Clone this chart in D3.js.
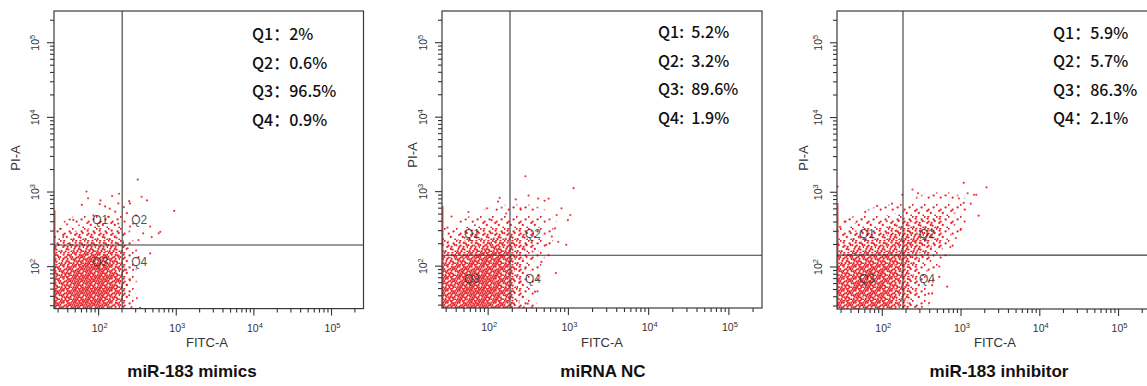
<!DOCTYPE html>
<html>
<head>
<meta charset="utf-8">
<script src="https://cdn.jsdelivr.net/npm/d3@7"></script>
<style>
  body { margin: 0; background: #fff; }
  svg { display: block; }
</style>
</head>
<body>
<div id="chart"></div>
<script>
// ---- data ----
const panelNames = ["miR-183 mimics", "miRNA NC", "miR-183 inhibitor"];
const quadrantNames = ["Q1", "Q2", "Q3", "Q4"];
const mimicsPct = [2, 0.6, 96.5, 0.9];
const ncPct = [5.2, 3.2, 89.6, 1.9];
const inhibitorPct = [5.9, 5.7, 86.3, 2.1];

// quadrant gates [FITC-A, PI-A]
const mimicsGate = [204, 192];
const ncGate = [190, 138];
const inhibitorGate = [186, 142];

const axisDomain = [27, 262144];
const decadeTicks = [100, 1000, 10000, 100000];
const tickRange = [30, 200000];

// event density, log10 bins of 0.15 starting at 1.43 (rows bottom -> top, cols left -> right)
const binStart = 1.43, binStep = 0.15;
const mimicsDensity = [
  [0.75, 0.9, 0.95, 0.95, 0.9, 0.65, 0.1, 0, 0, 0, 0],
  [0.75, 0.9, 0.97, 0.97, 0.95, 0.75, 0.12, 0, 0, 0, 0],
  [0.7, 0.9, 0.97, 0.97, 0.95, 0.75, 0.12, 0.02, 0, 0, 0],
  [0.65, 0.85, 0.95, 0.95, 0.9, 0.7, 0.1, 0.02, 0, 0, 0],
  [0.55, 0.7, 0.85, 0.85, 0.8, 0.65, 0.1, 0.02, 0, 0, 0],
  [0.38, 0.5, 0.62, 0.62, 0.58, 0.48, 0.08, 0.02, 0, 0, 0],
  [0.18, 0.28, 0.36, 0.36, 0.36, 0.3, 0.06, 0, 0, 0, 0],
  [0.06, 0.1, 0.15, 0.18, 0.18, 0.15, 0.04, 0, 0, 0, 0],
  [0, 0.03, 0.05, 0.06, 0.06, 0.06, 0.02, 0, 0, 0, 0]
];
const ncDensity = [
  [0.8, 0.85, 0.9, 0.9, 0.85, 0.7, 0.2, 0.08, 0, 0, 0],
  [0.8, 0.9, 0.95, 0.95, 0.9, 0.75, 0.25, 0.1, 0.02, 0, 0],
  [0.75, 0.9, 0.95, 0.95, 0.9, 0.75, 0.25, 0.1, 0.03, 0, 0],
  [0.7, 0.85, 0.9, 0.9, 0.9, 0.75, 0.3, 0.12, 0.04, 0, 0],
  [0.55, 0.7, 0.8, 0.85, 0.85, 0.75, 0.35, 0.15, 0.05, 0, 0],
  [0.32, 0.48, 0.58, 0.62, 0.68, 0.62, 0.42, 0.25, 0.1, 0.03, 0],
  [0.12, 0.25, 0.35, 0.4, 0.45, 0.45, 0.36, 0.25, 0.12, 0.04, 0],
  [0.04, 0.08, 0.12, 0.18, 0.22, 0.25, 0.22, 0.18, 0.1, 0.05, 0],
  [0, 0.02, 0.04, 0.06, 0.08, 0.1, 0.1, 0.1, 0.06, 0.03, 0],
  [0, 0, 0.01, 0.02, 0.03, 0.04, 0.04, 0.04, 0.03, 0.02, 0]
];
const inhibitorDensity = [
  [0.75, 0.8, 0.8, 0.8, 0.75, 0.55, 0.2, 0.06, 0, 0, 0, 0],
  [0.75, 0.85, 0.85, 0.85, 0.8, 0.6, 0.25, 0.1, 0.02, 0, 0, 0],
  [0.75, 0.85, 0.85, 0.85, 0.8, 0.65, 0.3, 0.12, 0.03, 0, 0, 0],
  [0.7, 0.8, 0.85, 0.85, 0.8, 0.65, 0.3, 0.15, 0.05, 0, 0, 0],
  [0.58, 0.68, 0.75, 0.75, 0.75, 0.65, 0.42, 0.2, 0.08, 0, 0, 0],
  [0.38, 0.48, 0.52, 0.58, 0.62, 0.62, 0.58, 0.42, 0.2, 0.08, 0, 0],
  [0.2, 0.3, 0.35, 0.4, 0.5, 0.56, 0.62, 0.52, 0.36, 0.15, 0.05, 0],
  [0.08, 0.15, 0.2, 0.25, 0.3, 0.35, 0.45, 0.45, 0.35, 0.2, 0.08, 0],
  [0.02, 0.04, 0.07, 0.1, 0.12, 0.15, 0.22, 0.25, 0.25, 0.18, 0.1, 0.04],
  [0, 0, 0.02, 0.03, 0.04, 0.05, 0.08, 0.1, 0.12, 0.1, 0.07, 0.03],
  [0, 0, 0, 0, 0.01, 0.02, 0.03, 0.04, 0.05, 0.05, 0.04, 0.02]
];

// single sparse events [log10 FITC-A, log10 PI-A]
const mimicsDots = [
  [2.51, 3.16], [2.98, 2.74], [2.56, 2.93], [2.63, 2.88], [2.18, 2.94], [1.85, 3.0],
  [1.87, 2.91], [2.27, 2.97], [2.40, 2.87], [2.41, 2.84], [2.02, 2.83], [2.09, 2.80],
  [1.79, 2.82], [2.49, 2.68], [2.67, 2.53], [2.78, 2.44], [2.80, 2.46], [2.69, 2.39],
  [2.58, 2.44], [2.52, 2.35], [2.41, 2.53], [2.45, 2.57], [2.37, 2.71], [2.67, 2.17],
  [2.52, 2.12], [2.45, 1.95], [2.41, 1.81], [2.50, 1.57], [2.40, 1.61], [2.37, 1.75],
  [2.43, 1.45], [2.54, 1.44], [2.36, 1.95], [2.38, 2.24], [2.49, 2.21], [1.60, 2.56],
  [1.51, 2.50], [1.68, 2.62], [1.55, 2.39], [2.13, 2.66], [2.22, 2.73], [1.94, 2.68],
  [2.26, 2.57], [2.33, 2.79], [2.26, 2.84], [2.15, 2.77], [2.03, 2.88]
];
const ncDots = [
  [2.47, 3.20], [3.07, 3.04], [2.51, 2.94], [2.63, 2.90], [2.76, 2.90], [2.71, 2.87],
  [2.15, 2.91], [1.99, 2.77], [1.76, 2.72], [1.55, 2.66], [1.50, 2.51], [3.03, 2.68],
  [3.00, 2.61], [2.92, 2.77], [2.86, 2.68], [2.98, 2.28], [2.84, 2.50], [2.80, 2.39],
  [2.35, 2.89], [2.41, 2.77], [2.23, 2.70], [2.13, 2.86], [2.05, 2.61], [2.85, 1.90],
  [2.67, 2.05], [2.63, 1.87], [2.59, 1.65], [2.50, 1.49], [2.44, 1.58], [2.40, 1.78],
  [2.47, 1.96], [2.56, 2.19], [2.45, 1.44], [2.55, 1.44], [2.73, 2.28], [2.88, 2.32],
  [2.76, 2.14], [2.48, 2.28]
];
const inhibitorDots = [
  [3.04, 3.12], [3.33, 3.06], [2.39, 3.03], [2.46, 2.98], [2.26, 2.96], [3.09, 2.98],
  [3.17, 2.96], [3.20, 2.96], [3.13, 2.84], [3.23, 2.68], [3.04, 2.85], [2.98, 2.91],
  [2.13, 2.84], [1.94, 2.81], [1.79, 2.73], [1.54, 2.60], [1.47, 2.53], [2.94, 2.38],
  [3.00, 2.49], [2.83, 1.73], [2.64, 1.75], [2.60, 1.51], [2.51, 1.46], [2.73, 1.86],
  [2.73, 2.00], [2.81, 2.15], [2.87, 2.26], [2.64, 1.64], [2.55, 1.62], [1.44, 3.07]
];

// events piled on the FITC-A minimum: [from, to] in log10 PI-A
const mimicsPile = [1.43, 2.75];
const ncPile = [1.43, 2.8];
const inhibitorPile = [1.43, 2.85];

// ---- layout ----
const W = 1147, H = 386;
const red = "#e8262b";
const ink = "#333";

const panels = [
  { name: panelNames[0], pct: mimicsPct, sep: "：", gate: mimicsGate, density: mimicsDensity,
    dots: mimicsDots, pile: mimicsPile, box: [54, 11, 363.5, 308.6],
    statsX: 252, statsY: 40, statsStep: 28.5, qdx: [-22, 17], qdy: [-25, 17],
    piX: 15, piY: 158, fitcX: 207, titleX: 192 },
  { name: panelNames[1], pct: ncPct, sep: ":  ", gate: ncGate, density: ncDensity,
    dots: ncDots, pile: ncPile, box: [442, 11, 762, 308],
    statsX: 658, statsY: 38, statsStep: 28.7, qdx: [-38, 23], qdy: [-21, 24],
    piX: 412, piY: 155, fitcX: 602, titleX: 603 },
  { name: panelNames[2], pct: inhibitorPct, sep: "：", gate: inhibitorGate, density: inhibitorDensity,
    dots: inhibitorDots, pile: inhibitorPile, box: [837, 11, 1151, 309],
    statsX: 1053, statsY: 39, statsStep: 28.3, qdx: [-36, 24], qdy: [-21, 24],
    piX: 803, piY: 158, fitcX: 995, titleX: 999 }
];

const svg = d3.select("#chart").append("svg")
  .attr("width", W)
  .attr("height", H)
  .attr("font-family", "'Liberation Sans', Arial, sans-serif");

const defs = svg.append("defs");

// ordered-dither dot screen: a jittered 6x6 lattice in a 12px tile,
// each dot switches on once the local density passes its level
const screenPos = [
  [0.6, 0.8], [2.7, 1.3], [4.3, 0.5], [6.9, 1.1], [8.4, 0.4], [10.8, 1.2],
  [1.5, 3.0], [3.6, 2.7], [5.4, 3.3], [7.8, 2.9], [9.6, 3.4], [11.5, 2.6],
  [0.3, 5.2], [2.6, 4.9], [4.7, 5.6], [6.5, 4.8], [8.9, 5.3], [10.7, 5.0],
  [1.2, 7.3], [3.3, 6.9], [5.8, 7.4], [7.6, 6.8], [9.8, 7.5], [11.6, 7.1],
  [0.5, 9.4], [2.4, 8.8], [4.5, 9.3], [6.8, 9.0], [8.6, 9.6], [10.6, 8.9],
  [1.6, 11.2], [3.7, 11.5], [5.5, 10.9], [7.7, 11.4], [9.5, 11.0], [11.4, 11.6]
];
const latin = [
  [0, 3, 1, 4, 2, 5],
  [4, 1, 5, 2, 0, 3],
  [2, 5, 0, 3, 4, 1],
  [3, 0, 4, 1, 5, 2],
  [5, 2, 3, 0, 1, 4],
  [1, 4, 2, 5, 3, 0]
];
const nLevels = 12;
const levelOf = k => { const row = Math.floor(k / 6), col = k % 6; return latin[row][col] * 2 + (row >= 3 ? 1 : 0); };

d3.range(nLevels).forEach(lv => {
  const pat = defs.append("pattern")
    .attr("id", `screen-${lv}`)
    .attr("width", 12).attr("height", 12)
    .attr("patternUnits", "userSpaceOnUse");
  pat.selectAll("circle").data(screenPos.filter((d, k) => levelOf(k) === lv)).join("circle")
    .attr("cx", d => d[0]).attr("cy", d => d[1]).attr("r", 1.15).attr("fill", "#fff");
  defs.append("mask").attr("id", `mask-${lv}`)
    .attr("maskUnits", "userSpaceOnUse")
    .attr("x", 0).attr("y", 0).attr("width", W).attr("height", H)
    .append("rect").attr("width", W).attr("height", H).attr("fill", `url(#screen-${lv})`);
  const thr = (lv + 0.5) / nLevels;
  const f = defs.append("filter").attr("id", `level-${lv}`)
    .attr("x", "-20%").attr("y", "-20%").attr("width", "140%").attr("height", "140%")
    .attr("color-interpolation-filters", "sRGB");
  f.append("feGaussianBlur").attr("stdDeviation", 3.2);
  f.append("feComponentTransfer").append("feFuncA")
    .attr("type", "linear").attr("slope", 40).attr("intercept", -40 * thr);
});

const allTicks = d3.range(1, 6)
  .flatMap(e => d3.range(1, 10).map(k => k * Math.pow(10, e)))
  .filter(v => v >= tickRange[0] && v <= tickRange[1]);
const isMajor = v => decadeTicks.some(t => Math.abs(t - v) < 1e-6);
const expOf = v => Math.round(Math.log10(v));

panels.forEach((p, i) => {
  const [l, t, r, b] = p.box;
  const x = d3.scaleLog().domain(axisDomain).range([l, r]);
  const y = d3.scaleLog().domain(axisDomain).range([b, t]);
  const g = svg.append("g");

  defs.append("clipPath").attr("id", `clip-${i}`)
    .append("rect").attr("x", l).attr("y", t).attr("width", r - l).attr("height", b - t);

  // density cells, dithered into dots
  const edge = k => Math.pow(10, binStart + k * binStep);
  const cells = p.density.flatMap((row, ri) => row.map((v, ci) => ({ ri, ci, v }))).filter(d => d.v > 0);
  const dens = g.append("g").attr("clip-path", `url(#clip-${i})`);
  d3.range(nLevels).forEach(lv => {
    dens.append("g").attr("mask", `url(#mask-${lv})`)
      .append("g").attr("filter", `url(#level-${lv})`)
      .selectAll("rect").data(cells).join("rect")
      .attr("x", d => x(edge(d.ci)) - (d.ci === 0 ? 10 : 0))
      .attr("y", d => y(edge(d.ri + 1)))
      .attr("width", d => x(edge(d.ci + 1)) - x(edge(d.ci)) + (d.ci === 0 ? 10 : 0))
      .attr("height", d => y(edge(d.ri)) - y(edge(d.ri + 1)) + (d.ri === 0 ? 10 : 0))
      .attr("fill", red)
      .attr("fill-opacity", d => d.v);
  });

  // piled events on the left edge
  g.append("line")
    .attr("x1", x(axisDomain[0]) + 0.8).attr("x2", x(axisDomain[0]) + 0.8)
    .attr("y1", y(Math.pow(10, p.pile[0]))).attr("y2", y(Math.pow(10, p.pile[1])))
    .attr("stroke", red).attr("stroke-width", 1.6).attr("stroke-opacity", 0.7);

  // sparse events
  g.append("g").selectAll("circle").data(p.dots).join("circle")
    .attr("cx", d => x(Math.pow(10, d[0])))
    .attr("cy", d => y(Math.pow(10, d[1])))
    .attr("r", 1.1)
    .attr("fill", red)
    .attr("fill-opacity", 0.9);

  // gates
  const gx = x(p.gate[0]), gy = y(p.gate[1]);
  g.append("line").attr("x1", gx).attr("x2", gx).attr("y1", t).attr("y2", b)
    .attr("stroke", "#3a3a3a").attr("stroke-width", 1.1);
  g.append("line").attr("x1", l).attr("x2", r).attr("y1", gy).attr("y2", gy)
    .attr("stroke", "#3a3a3a").attr("stroke-width", 1.1);

  // box
  g.append("rect").attr("x", l).attr("y", t).attr("width", r - l).attr("height", b - t)
    .attr("fill", "none").attr("stroke", "#3a3a3a").attr("stroke-width", 1.2);

  // quadrant labels
  const qpos = [[p.qdx[0], p.qdy[0]], [p.qdx[1], p.qdy[0]], [p.qdx[0], p.qdy[1]], [p.qdx[1], p.qdy[1]]];
  g.append("g").selectAll("text").data(quadrantNames).join("text")
    .attr("x", (d, k) => gx + qpos[k][0])
    .attr("y", (d, k) => gy + qpos[k][1] + 4)
    .attr("text-anchor", "middle")
    .attr("font-size", 12)
    .attr("fill", ink)
    .attr("fill-opacity", 0.85)
    .text(d => d);

  // x axis
  const ax = g.append("g").attr("transform", `translate(0,${b})`)
    .call(d3.axisBottom(x).tickValues(allTicks).tickSize(4).tickFormat(""));
  ax.select(".domain").remove();
  ax.selectAll(".tick text").remove();
  ax.selectAll(".tick line").attr("stroke", ink).attr("stroke-width", 1.1).attr("y2", d => isMajor(d) ? 7 : 4);
  const xl = ax.selectAll(".tick").filter(d => isMajor(d)).append("text")
    .attr("y", 23).attr("x", 1).attr("text-anchor", "middle")
    .attr("font-size", 10.5).attr("fill", ink).text("10");
  xl.append("tspan").attr("dy", -4).attr("font-size", 7.5).text(d => expOf(d));

  // y axis
  const ay = g.append("g").attr("transform", `translate(${l},0)`)
    .call(d3.axisLeft(y).tickValues(allTicks).tickSize(4).tickFormat(""));
  ay.select(".domain").remove();
  ay.selectAll(".tick text").remove();
  ay.selectAll(".tick line").attr("stroke", ink).attr("stroke-width", 1.1).attr("x2", d => isMajor(d) ? -7 : -4);
  const yl = ay.selectAll(".tick").filter(d => isMajor(d)).append("text")
    .attr("transform", "translate(-15,0) rotate(-90)")
    .attr("text-anchor", "middle")
    .attr("font-size", 10.5).attr("fill", ink).text("10");
  yl.append("tspan").attr("dy", -4).attr("font-size", 7.5).text(d => expOf(d));

  // axis titles
  g.append("text").attr("x", p.fitcX).attr("y", 347).attr("text-anchor", "middle")
    .attr("font-size", 13).attr("fill", ink).text("FITC-A");
  g.append("text").attr("transform", `translate(${p.piX + 5},${p.piY}) rotate(-90)`)
    .attr("text-anchor", "middle").attr("font-size", 13).attr("fill", ink).text("PI-A");

  // panel title
  g.append("text").attr("x", p.titleX).attr("y", 377).attr("text-anchor", "middle")
    .attr("font-size", 17).attr("font-weight", "bold").attr("fill", "#111").text(p.name);

  // quadrant percentages
  g.append("g").selectAll("text").data(p.pct).join("text")
    .attr("x", p.statsX)
    .attr("y", (d, k) => p.statsY + k * p.statsStep)
    .attr("font-family", "'Noto Sans CJK SC', 'Noto Sans', sans-serif")
    .attr("font-size", 16)
    .attr("font-weight", 500)
    .attr("fill", "#111")
    .style("white-space", "pre")
    .text((d, k) => `${quadrantNames[k]}${p.sep}${d}%`);
});
</script>
</body>
</html>
